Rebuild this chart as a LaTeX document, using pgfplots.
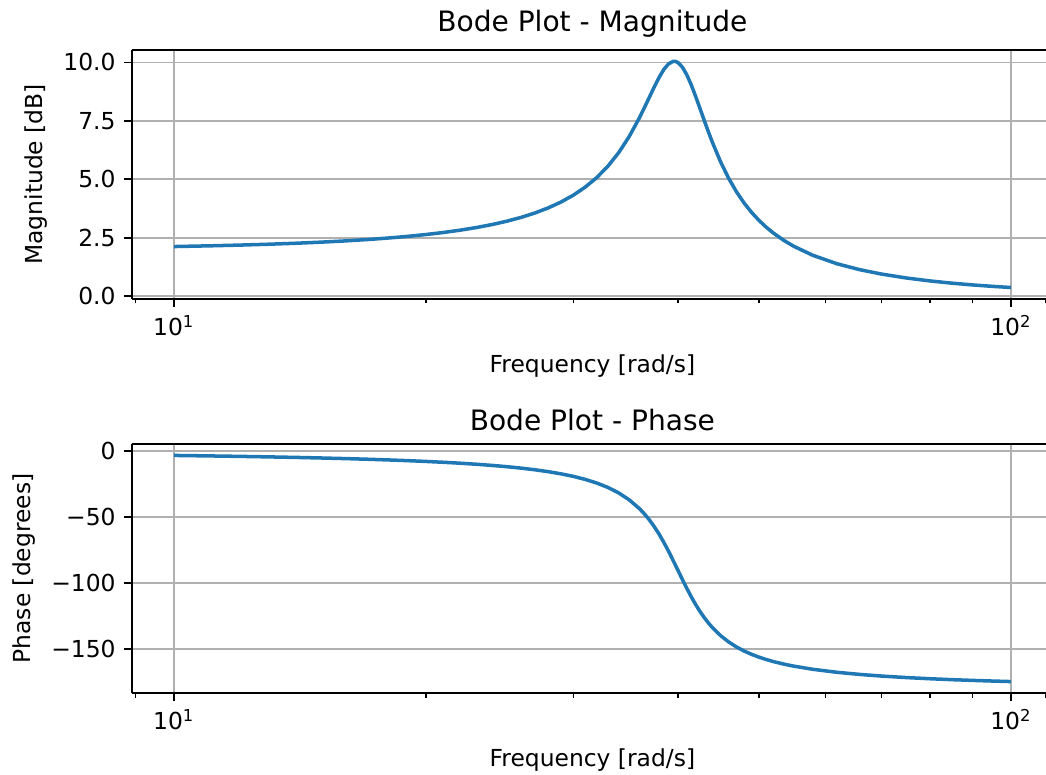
\documentclass[border=0pt]{standalone}
\usepackage{fontspec}
\setmainfont{DejaVu Sans}
\usepackage{pgfplots}
\usepackage{pgfplotstable}
\pgfplotsset{compat=1.18}

\definecolor{bodeblue}{HTML}{1F77B4}
\definecolor{gridgray}{HTML}{B0B0B0}

% Frequency response: w [rad/s], magnitude, phase [deg]
\pgfplotstableread{
w      mag      phase
10     2.1303   -3.05
11     2.1598   -3.41
12     2.1930   -3.77
13     2.2303   -4.16
14     2.2720   -4.56
15     2.3185   -4.99
16     2.3702   -5.44
17     2.4279   -5.92
18     2.4920   -6.44
19     2.5635   -6.99
20     2.6433   -7.60
21     2.7324   -8.25
22     2.8324   -8.96
23     2.9447   -9.75
24     3.0715   -10.62
25     3.2151   -11.59
26     3.3786   -12.69
27     3.5659   -13.93
28     3.7817   -15.35
29     4.0319   -17.00
30     4.3243   -18.92
31     4.6685   -21.21
32     5.0767   -23.96
33     5.5636   -27.32
34     6.1457   -31.49
35     6.8376   -36.75
36     7.6416   -43.45
36.5   8.0773   -47.48
37     8.5226   -52.03
37.5   8.9604   -57.14
38     9.3652   -62.83
38.5   9.7046   -69.08
39     9.9426   -75.79
39.5   10.0474  -82.83
39.6   10.0504  -84.26
39.75  10.0431  -86.41
40     10.0000  -90.00
40.5   9.8012   -97.08
41     9.4715   -103.87
41.5   9.0449   -110.21
42     8.5588   -116.02
42.5   8.0469   -121.24
43     7.5354   -125.90
43.5   7.0417   -130.03
44     6.5760   -133.67
45     5.7453   -139.73
46     5.0491   -144.50
47     4.4710   -148.31
48     3.9904   -151.39
49     3.5884   -153.92
50     3.2491   -156.04
51     2.9603   -157.82
52     2.7124   -159.35
53.5   2.4009   -161.27
55     2.1457   -162.84
58     1.7544   -165.26
62     1.3924   -167.54
66     1.1404   -169.15
70     0.9560   -170.37
75     0.7863   -171.52
80     0.6608   -172.41
85     0.5648   -173.11
90     0.4893   -173.68
95     0.4287   -174.16
100    0.3792   -174.56
}\bodedata

\pgfplotsset{
  every axis/.append style={
    scale only axis,
    width=393.5pt,
    height=106.3pt,
    xmin=8.9125, xmax=112.2,
    axis x line=box,
    axis y line*=left,
    xtick={10,100},
    xticklabels={10\textsuperscript{1},10\textsuperscript{2}},
    minor xtick={9,20,30,40,50,60,70,80,90,110},
    tick align=outside,
    tick pos=left,
    major tick length=3.5pt,
    minor tick length=2pt,
    axis line style={line width=0.8pt, black, -},
    major tick style={line width=0.8pt, black},
    minor tick style={line width=0.6pt, black},
    grid=major,
    grid style={line width=0.8pt, gridgray},
    tick label style={font=\fontsize{10}{12}\selectfont},
    label style={font=\fontsize{10}{12}\selectfont},
    title style={font=\fontsize{12}{14}\selectfont, yshift=-4pt},
    xlabel={Frequency [rad/s]},
    xlabel style={yshift=-1pt},
  },
}

\begin{document}
\begin{tikzpicture}
\begin{semilogxaxis}[
  name=mag,
  title={Bode Plot - Magnitude},
  ylabel={Magnitude [dB]},
  ymin=-0.104, ymax=10.53,
  ytick={0,2.5,5,7.5,10},
  yticklabels={0.0,2.5,5.0,7.5,10.0},
]
\addplot[bodeblue, line width=1.5pt, line join=round, no marks]
  table[x=w, y=mag] {\bodedata};
\end{semilogxaxis}

\begin{semilogxaxis}[
  name=phase,
  at={(mag.north west)},
  anchor=north west,
  yshift=-168.4pt,
  title={Bode Plot - Phase},
  ylabel={Phase [degrees]},
  ymin=-183.14, ymax=5.52,
  ytick={-150,-100,-50,0},
  yticklabels={−150,−100,−50,0},
]
\addplot[bodeblue, line width=1.5pt, line join=round, no marks]
  table[x=w, y=phase] {\bodedata};
\end{semilogxaxis}

\pgfresetboundingbox
\path ([xshift=-56.4pt,yshift=21.4pt]mag.north west)
  rectangle ([xshift=390.6pt,yshift=-309.4pt]mag.north west);
\end{tikzpicture}
\end{document}
